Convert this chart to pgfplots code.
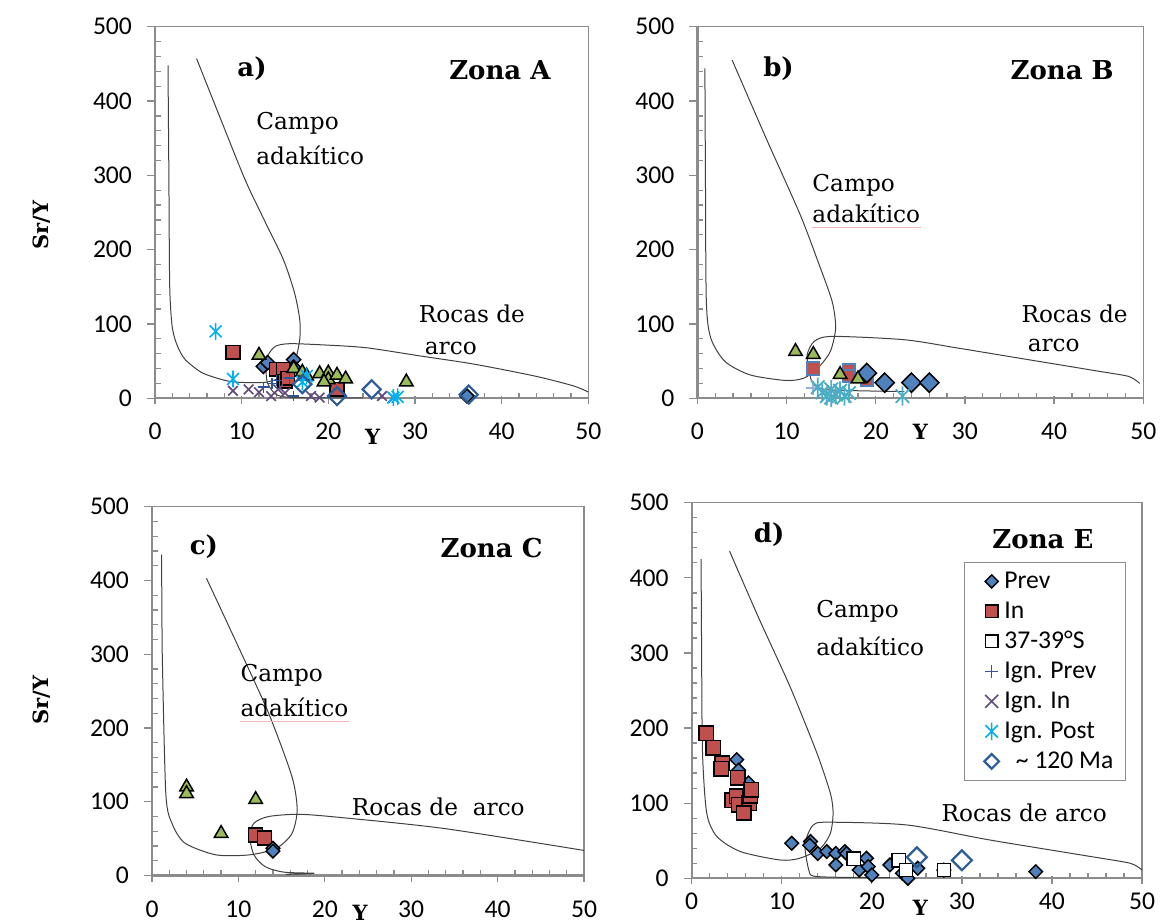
\documentclass[border=0pt]{standalone}
\usepackage{fontspec}
\usepackage{pgfplots}
\pgfplotsset{compat=1.18}
\setmainfont{DejaVu Serif}
\newfontfamily\calibri{Carlito}
\definecolor{axgray}{HTML}{8C8C8C}
\definecolor{fieldc}{HTML}{404040}
\definecolor{cprev}{HTML}{4F81BD}
\definecolor{cin}{HTML}{C0504D}
\definecolor{ctri}{HTML}{9BBB59}
\definecolor{cigprev}{HTML}{2E5597}
\definecolor{cigin}{HTML}{604A7B}
\definecolor{cigpost}{HTML}{00B0F0}
\definecolor{cold}{HTML}{2C5D9A}
\definecolor{cteal}{HTML}{4BACC6}
\definecolor{clblue}{HTML}{95B3D7}
\definecolor{spell}{HTML}{F4B6B6}
\newcommand{\ann}{\fontsize{11.6}{13}\selectfont}
\newcommand{\ttl}{\bfseries\fontsize{13}{15}\selectfont}
\newcommand{\lab}{\bfseries\fontsize{10.5}{12}\selectfont}
\pgfdeclareplotmark{xast}{%
  \pgfpathmoveto{\pgfqpoint{0pt}{\pgfplotmarksize}}%
  \pgfpathlineto{\pgfqpoint{0pt}{-\pgfplotmarksize}}%
  \pgfpathmoveto{\pgfqpoint{-.7071\pgfplotmarksize}{-.7071\pgfplotmarksize}}%
  \pgfpathlineto{\pgfqpoint{.7071\pgfplotmarksize}{.7071\pgfplotmarksize}}%
  \pgfpathmoveto{\pgfqpoint{-.7071\pgfplotmarksize}{.7071\pgfplotmarksize}}%
  \pgfpathlineto{\pgfqpoint{.7071\pgfplotmarksize}{-.7071\pgfplotmarksize}}%
  \pgfusepathqstroke}
\pgfplotsset{
  panel/.style={
    scale only axis, clip=false,
    xmin=0, xmax=50, ymin=0, ymax=500,
    xtick={0,10,...,50}, ytick={0,100,...,500},
    minor x tick num=4, minor y tick num=4,
    xtick pos=left, ytick pos=left,
    tick align=inside,
    major tick length=4pt, minor tick length=2.8pt,
    every tick/.append style={axgray, line width=0.65pt},
    major x tick style={yshift=-3pt},
    major y tick style={xshift=-4pt},
    axis line style={axgray, line width=0.55pt},
    tick label style={font=\calibri\fontsize{12.8}{15}\selectfont},
    /pgf/number format/assume math mode=true,
    xticklabel style={yshift=-9pt},
    yticklabel style={xshift=-8pt},
  },
  field/.style={fieldc, line width=0.5pt, smooth, tension=0.45, mark=none},
  sprev/.style={only marks, mark=square*, mark size=#1, mark options={rotate=45, fill=cprev, draw=black, line width=0.75pt}},
  sin/.style={only marks, mark=square*, mark size=#1, mark options={fill=cin, draw=black, line width=0.75pt}},
  sinb/.style={only marks, mark=square*, mark size=#1, mark options={fill=cin, draw=cprev, line width=0.9pt}},
  sthree/.style={only marks, mark=square*, mark size=#1, mark options={fill=white, draw=black, line width=0.75pt}},
  sigprev/.style={only marks, mark=+, mark size=#1, mark options={draw=cigprev, line width=0.8pt}},
  sigin/.style={only marks, mark=x, mark size=#1, mark options={draw=cigin, line width=0.8pt}},
  sigpost/.style={only marks, mark=xast, mark size=#1, mark options={draw=cigpost, line width=0.8pt}},
  sold/.style={only marks, mark=square, mark size=#1, mark options={rotate=45, draw=cold, line width=1.1pt}},
  stri/.style={only marks, mark=triangle*, mark size=#1, mark options={fill=ctri, draw=black, line width=0.75pt}},
}
\begin{document}
\begin{tikzpicture}
%% ---------------- panel a
\begin{axis}[panel, at={(77.5pt,261.85pt)}, anchor=south west, width=216.65pt, height=185.8pt]
\draw[axgray, line width=1.1pt] (rel axis cs:0,1) -- (rel axis cs:0,0) -- (rel axis cs:1,0);
\addplot[field] coordinates {(1.5,448) (1.6,300) (1.7,150) (2.0,95) (2.6,70) (3.5,52) (5.5,34) (8.5,23) (11.2,21) (13,22) (14.8,30) (16.1,48) (16.7,79) (16.7,106) (16.1,142) (14.8,187) (12.6,240) (10.4,294) (7.6,375) (4.8,457)};
\addplot[field] coordinates {(24,0.5) (16,1) (14,5) (13,20) (12.8,40) (13,57) (13.9,70) (15.6,73.5) (20,71.5) (24.4,68) (30.6,57) (36.8,46) (43.8,30) (48.2,17) (50,8.5)};
\addplot[sprev=2.5pt] coordinates {(12.5,43) (13,48) (16,52) (16,42) (36,3)};
\addplot[sin=3.4pt] coordinates {(9,62) (14,39) (14.8,39) (15,23) (15.3,27) (21,12)};
\addplot[stri=3.9pt] coordinates {(12,58) (16,40) (17,35) (17.5,30) (19,33) (20,34) (20,25) (21,31) (22,26) (19.5,22) (29,22)};
\addplot[sigprev=2.7pt] coordinates {(12.5,15) (13.5,20) (14,24) (15.5,27) (16,3) (17,25)};
\addplot[sigin=3.4pt] coordinates {(9,10) (10.8,12) (12,8) (13.4,3) (14.2,12) (15,7) (18,3) (19,1) (26.2,3) (27.5,1)};
\addplot[sigpost=4.2pt] coordinates {(7,90) (9,26) (17.5,30) (17,22) (27.5,1) (28,2)};
\addplot[sold=3.2pt] coordinates {(17,19) (21,3) (25,12) (36.2,5)};
\node[font=\ttl] at (axis cs:11.2,444) {a)};
\node[font=\ttl] at (axis cs:39.8,441.6) {Zona A};
\node[font=\ann, anchor=west, inner sep=0pt] at (axis cs:11.65,370) {Campo};
\node[font=\ann, anchor=west, inner sep=0pt] at (axis cs:11.65,327) {adakítico};
\node[font=\ann, anchor=west, inner sep=0pt] at (axis cs:30.4,114) {Rocas de};
\node[font=\ann, anchor=west, inner sep=0pt] at (axis cs:31.1,67) {arco};
\node[font=\lab] at ([yshift=-19.5pt]axis cs:25.1,0) {Y};
\node[font=\lab, rotate=90] at ([xshift=-56.5pt]rel axis cs:0,0.466) {Sr/Y};
\end{axis}
%% ---------------- panel b
\begin{axis}[panel, at={(348.7pt,261.85pt)}, anchor=south west, width=222.95pt, height=185.8pt]
\draw[axgray, line width=1.1pt] (rel axis cs:0,1) -- (rel axis cs:0,0) -- (rel axis cs:1,0);
\addplot[field] coordinates {(0.84,444) (0.9,300) (1.0,131) (1.5,81) (3.1,49.5) (5.9,31.5) (9.9,24) (11.9,27) (13.5,40.5) (14.9,63) (15.5,94.6) (15.1,130.6) (13.5,184.7) (11.5,247.7) (7.7,350) (3.9,455)};
\addplot[field] coordinates {(23.2,9) (17.1,10.4) (14.3,12) (13.1,18) (12.7,27) (12.5,40.5) (12.3,58.6) (13.1,76.6) (15.1,83.3) (23.2,78.8) (29.2,67.6) (37.2,51.8) (45.2,36) (48.4,29.3) (49.6,20)};
\addplot[sinb=3.1pt] coordinates {(13,40) (17,38) (17,30) (19,25)};
\addplot[sprev=3.4pt] coordinates {(19,34) (21,21) (24,21) (26,21)};
\addplot[stri=3.9pt] coordinates {(11,63) (13,59) (16,32) (18,26)};
\addplot[only marks, mark=+, mark size=3.6pt, mark options={draw=clblue, line width=0.9pt}] coordinates {(13,14)};
\addplot[only marks, mark=xast, mark size=4.8pt, mark options={draw=cteal, line width=0.9pt}] coordinates {(13.5,15) (14,8) (14.5,3) (15,12) (15.5,5) (16,10) (16.5,3) (17,7) (15,1) (23,3)};
\node[font=\ttl] at (axis cs:9.1,444) {b)};
\node[font=\ttl] at (axis cs:40.9,441.6) {Zona B};
\node[font=\ann, anchor=west, inner sep=0pt] at (axis cs:12.86,287) {Campo};
\node[font=\ann, anchor=west, inner sep=0pt] (adkb) at (axis cs:12.86,249) {adakítico};
\draw[spell, line width=0.4pt] ([yshift=-2pt]adkb.south west) -- ([yshift=-2pt]adkb.south east);
\node[font=\ann, anchor=west, inner sep=0pt] at (axis cs:36.3,114) {Rocas de};
\node[font=\ann, anchor=west, inner sep=0pt] at (axis cs:37.0,71.7) {arco};
\node[font=\lab] at ([yshift=-16.7pt]axis cs:25.0,0) {Y};
\end{axis}
%% ---------------- panel c
\begin{axis}[panel, at={(76pt,23.25pt)}, anchor=south west, width=216pt, height=184.4pt]
\draw[axgray, line width=1.1pt] (rel axis cs:0,1) -- (rel axis cs:0,0) -- (rel axis cs:1,0);
\addplot[field] coordinates {(1.1,435) (1.15,360) (1.2,292) (1.6,111) (2.3,71) (3.8,44) (7.4,28) (11.3,28) (14.4,37) (16.2,57) (16.8,89) (16.2,134) (13.5,220) (10,310) (6.3,403)};
\addplot[field] coordinates {(15.5,1.5) (18.8,3) (15.3,4.5) (13.1,12) (11.8,28) (11.3,53) (11.8,71) (13.5,80) (17.1,83) (22.4,78) (33.9,63.6) (50,34)};
\addplot[stri=3.9pt] coordinates {(4,120) (4,111) (8,57) (12,103)};
\addplot[sin=3.5pt] coordinates {(12,55) (13,51)};
\addplot[sprev=2.4pt] coordinates {(14,37) (14,33)};
\node[font=\ttl] at (axis cs:6.0,446) {c)};
\node[font=\ttl] at (axis cs:39.3,443.5) {Zona C};
\node[font=\ann, anchor=west, inner sep=0pt] at (axis cs:10.2,271) {Campo};
\node[font=\ann, anchor=west, inner sep=0pt] (adkc) at (axis cs:10.2,228) {adakítico};
\draw[spell, line width=0.4pt] ([yshift=-2pt]adkc.south west) -- ([yshift=-2pt]adkc.south east);
\node[font=\ann, anchor=west, inner sep=0pt] at (axis cs:23.1,93.5) {Rocas de\ \ arco};
\node[font=\lab] at ([yshift=-18.7pt]axis cs:24.1,0) {Y};
\node[font=\lab, rotate=90] at ([xshift=-55pt]rel axis cs:0,0.476) {Sr/Y};
\end{axis}
%% ---------------- panel d
\begin{axis}[panel, at={(345.85pt,21.85pt)}, anchor=south west, width=225.15pt, height=187.8pt,
  xticklabel style={yshift=5pt},
  legend style={at={(0.604,0.843)}, anchor=north west, draw=axgray, line width=0.7pt, fill=white,
    font=\calibri\fontsize{12.8}{15}\selectfont, inner xsep=5pt, inner ysep=2pt, row sep=0pt,
    nodes={inner sep=1pt, text height=10pt, text depth=3pt}, cells={anchor=west}},
  legend image code/.code={\path (0pt,0pt) (13.3pt,0pt); \draw[#1] plot coordinates {(8.3pt,0pt)};}]
\draw[axgray, line width=1.1pt] (rel axis cs:0,1) -- (rel axis cs:0,0) -- (rel axis cs:1,0);
\addplot[field, forget plot] coordinates {(1.04,425) (1.1,300) (1.2,167) (1.67,86.7) (2.8,55.6) (5.4,35.6) (9.8,24.4) (12,26.7) (14.3,40) (15.4,60) (15.7,86.7) (15.4,113) (13.9,166.7) (10.9,255.6) (7.5,345) (4.2,435.6)};
\addplot[field, forget plot] coordinates {(22,1) (16.5,1.3) (13.5,3) (13,11) (12.6,37.8) (12.8,55.6) (13.5,71) (15,74.7) (23.9,71) (33.1,51) (44.3,29) (48.7,20) (50,11)};
\addplot[sprev=2.4pt, forget plot] coordinates {(5,158) (5.2,144) (6.3,127) (11.1,46.7) (13.2,49) (13.1,44) (14,33) (15,35.6) (16,33) (16,17.8) (17,35.6) (17.2,33) (18.6,11) (19.4,26.7) (19.6,15.6) (20,4.4) (22,17.8) (23.4,6.7) (24,0) (25.1,13.3) (28,11) (38.2,8.9)};
\addplot[sin=3.6pt, forget plot] coordinates {(1.6,193) (2.4,174) (3.4,153) (3.3,146) (5.1,134) (4.5,104) (5.0,109) (5.2,98) (6.4,100) (6.5,110) (6.6,118) (5.8,87)};
\addplot[sthree=3.3pt, forget plot] coordinates {(18,26) (23,24) (23.8,11) (28,11)};
\addplot[sold=3.5pt, forget plot] coordinates {(25,28) (30,24)};
\addlegendimage{sprev=2.3pt}\addlegendentry{Prev}
\addlegendimage{sin=3.1pt}\addlegendentry{In}
\addlegendimage{sthree=3.1pt}\addlegendentry{37-39°S}
\addlegendimage{sigprev=3.3pt}\addlegendentry{Ign. Prev}
\addlegendimage{sigin=4.6pt}\addlegendentry{Ign. In}
\addlegendimage{sigpost=4.4pt}\addlegendentry{Ign. Post}
\addlegendimage{sold=2.6pt}\addlegendentry{\ \ \textasciitilde{} 120 Ma}
\node[font=\ttl] at (axis cs:8.6,458) {d)};
\node[font=\ttl] at (axis cs:39,452) {Zona E};
\node[font=\ann, anchor=west, inner sep=0pt] at (axis cs:13.8,355.6) {Campo};
\node[font=\ann, anchor=west, inner sep=0pt] at (axis cs:13.8,309) {adakítico};
\node[font=\ann, anchor=west, inner sep=0pt] at (axis cs:27.7,87.6) {Rocas de arco};
\node[font=\lab] at ([yshift=-15pt]axis cs:25.4,0) {Y};
\end{axis}
\pgfresetboundingbox
\path[use as bounding box] (0,0) rectangle (580pt,461pt);
\end{tikzpicture}
\end{document}
